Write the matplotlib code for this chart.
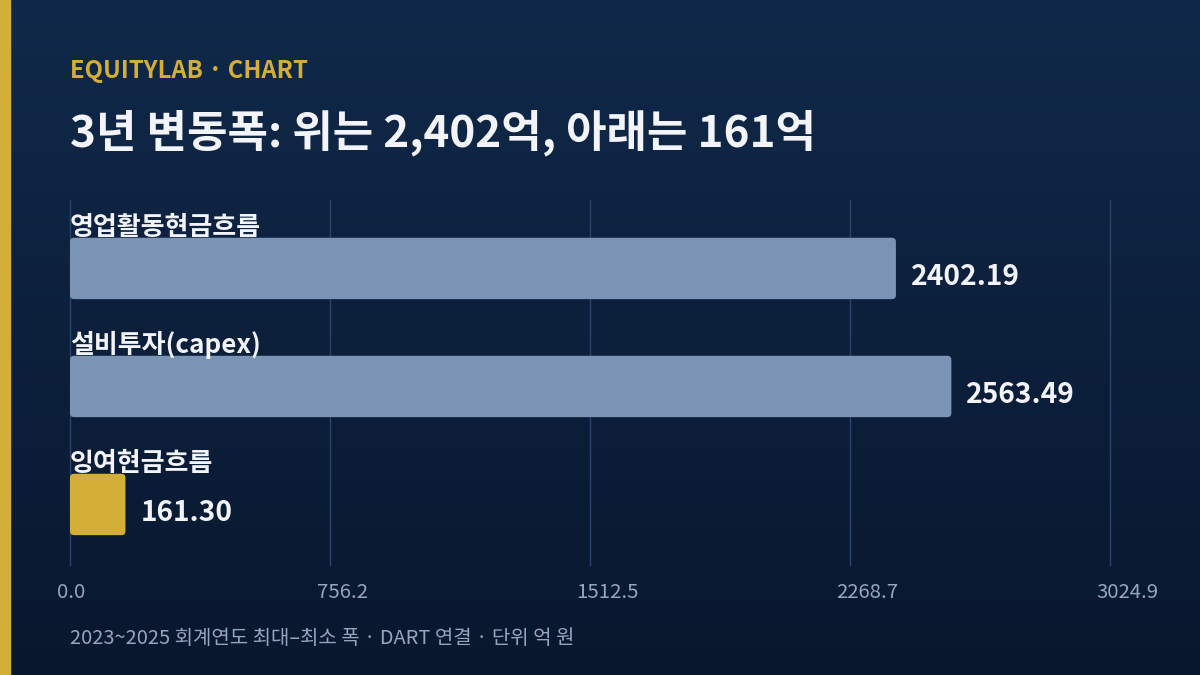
import matplotlib
matplotlib.use("Agg")
import matplotlib.pyplot as plt
import numpy as np
from matplotlib.patches import FancyBboxPatch, Rectangle

plt.rcParams["font.family"] = ["Noto Sans CJK KR", "DejaVu Sans"]

# data
categories = ["영업활동현금흐름", "설비투자(capex)", "잉여현금흐름"]
values = [2402.19, 2563.49, 161.30]
bar_colors = ["#7b93b5", "#7b93b5", "#d4af37"]
value_labels = ["2402.19", "2563.49", "161.30"]

W, H = 1200, 675
fig = plt.figure(figsize=(W / 100, H / 100), dpi=100)

# background gradient
bg = fig.add_axes([0, 0, 1, 1], zorder=0)
top = np.array([0x10, 0x29, 0x4a]) / 255
bot = np.array([0x09, 0x17, 0x2e]) / 255
t = np.linspace(0, 1, 256)[:, None]
grad = top[None, :] * (1 - t) + bot[None, :] * t
bg.imshow(grad[:, None, :], aspect="auto", extent=[0, 1, 0, 1])
bg.add_patch(Rectangle((0, 0), 10 / W, 1, color="#d4af37", transform=bg.transAxes))
bg.set_xlim(0, 1)
bg.set_ylim(0, 1)
bg.axis("off")

# header
fig.text(70 / W, 1 - 71 / H, "EQUITYLAB · CHART", color="#d4af37", fontsize=17.2,
         fontweight="bold", va="center", ha="left")
fig.text(70 / W, 1 - 133 / H, "3년 변동폭: 위는 2,402억, 아래는 161억", color="#f2f4fa",
         fontsize=31.7, fontweight="bold", va="center", ha="left")
fig.text(70 / W, 1 - 638 / H, "2023~2025 회계연도 최대–최소 폭 · DART 연결 · 단위 억 원",
         color="#97a6bf", fontsize=14.4, va="center", ha="left")

# chart axes
ax_l, ax_r, ax_t, ax_b = 70, 1110, 200, 565
ax = fig.add_axes([ax_l / W, 1 - ax_b / H, (ax_r - ax_l) / W, (ax_b - ax_t) / H], zorder=1)
ax.patch.set_alpha(0)

xmax = max(values) * 1.18
ymin, ymax = 2.513, -0.58
ax.set_xlim(0, xmax)
ax.set_ylim(ymin, ymax)
x_per_px = xmax / (ax_r - ax_l)
y_per_px = (ymin - ymax) / (ax_b - ax_t)

ticks = np.linspace(0, xmax, 5)
ax.set_xticks([])
ax.set_yticks([])
for s in ax.spines.values():
    s.set_visible(False)
for tk in ticks:
    ax.axvline(tk, color="#2c4469", linewidth=1, zorder=0, clip_on=False)
    ax.text(tk - 13.5 * x_per_px, ymin + 27 * y_per_px, f"{tk:.1f}", color="#97a6bf",
            fontsize=14.7, ha="left", va="center")

bar_h = 0.52
radius_px = 4
for i, (cat, v, c, lab) in enumerate(zip(categories, values, bar_colors, value_labels)):
    box = FancyBboxPatch((0, i - bar_h / 2), v, bar_h,
                         boxstyle=f"round,pad=0,rounding_size={radius_px * x_per_px}",
                         mutation_aspect=y_per_px / x_per_px,
                         facecolor=c, edgecolor="none", zorder=2)
    ax.add_patch(box)
    ax.text(0, i - bar_h / 2 - 10.5 * y_per_px, cat, color="#f2f4fa", fontsize=18.7,
            fontweight="bold", ha="left", va="center", zorder=3)
    ax.text(v + 15 * x_per_px, i + 8.5 * y_per_px, lab, color="#f2f4fa", fontsize=20.3,
            fontweight="bold", ha="left", va="center")

fig.savefig("out.png", dpi=100)
